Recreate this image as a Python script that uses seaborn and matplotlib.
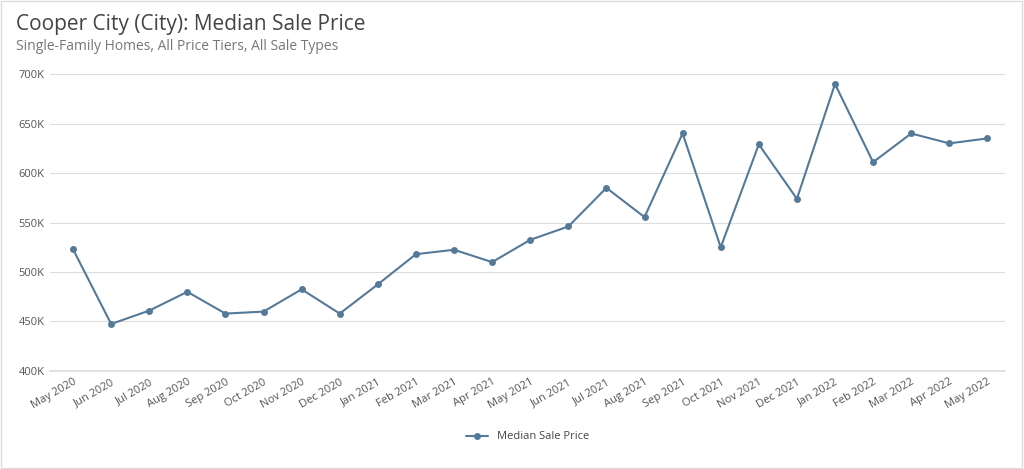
import matplotlib
matplotlib.use("Agg")
import matplotlib.pyplot as plt
import seaborn as sns
import pandas as pd
from matplotlib.ticker import FuncFormatter
from matplotlib.patches import Rectangle

months = ["May 2020", "Jun 2020", "Jul 2020", "Aug 2020", "Sep 2020", "Oct 2020",
          "Nov 2020", "Dec 2020", "Jan 2021", "Feb 2021", "Mar 2021", "Apr 2021",
          "May 2021", "Jun 2021", "Jul 2021", "Aug 2021", "Sep 2021", "Oct 2021",
          "Nov 2021", "Dec 2021", "Jan 2022", "Feb 2022", "Mar 2022", "Apr 2022",
          "May 2022"]
prices = [523000, 447500, 461000, 480000, 458000, 460000, 482500, 458000, 487500,
          518000, 522500, 510000, 532500, 546000, 585000, 555500, 640000, 525000,
          629000, 574000, 690000, 611000, 640000, 630000, 635000]

df = pd.DataFrame({"month": months, "price": prices, "pos": range(len(months))})

sns.set_theme(style="white", font="Open Sans")
fig = plt.figure(figsize=(10.24, 4.69), dpi=100)
ax = fig.add_axes([0.049, 0.209, 0.932, 0.633])

line_color = "#557a99"
sns.lineplot(data=df, x="pos", y="price", ax=ax, color=line_color, linewidth=1.5,
             marker="o", markersize=5, markeredgewidth=0, label="Median Sale Price")

ax.set_ylim(400000, 700000)
ax.set_xlim(-0.6, len(months) - 1 + 0.45)
ax.set_yticks(range(400000, 700001, 50000))
ax.yaxis.set_major_formatter(FuncFormatter(lambda v, p: f"{int(v / 1000)}K"))
ax.set_xticks(df["pos"])
ax.set_xticklabels(months, rotation=30, ha="right", rotation_mode="anchor")
ax.tick_params(axis="both", labelsize=8, colors="#555555", length=0, pad=4)
ax.grid(axis="y", color="#dddddd", linewidth=0.8)
ax.set_xlabel("")
ax.set_ylabel("")
for s in ["top", "right", "left"]:
    ax.spines[s].set_visible(False)
ax.spines["bottom"].set_color("#dddddd")

ax.legend(loc="upper center", bbox_to_anchor=(0.5, -0.17), frameon=False,
          fontsize=8, labelcolor="#444444")

fig.text(0.016, 0.935, "Cooper City (City): Median Sale Price", fontsize=15, color="#444444")
fig.text(0.016, 0.893, "Single-Family Homes, All Price Tiers, All Sale Types", fontsize=10, color="#777777")
fig.patches.append(Rectangle((0.001, 0.002), 0.997, 0.995, transform=fig.transFigure,
                             fill=False, edgecolor="#dddddd", linewidth=1))

fig.savefig("out.png", dpi=100)
